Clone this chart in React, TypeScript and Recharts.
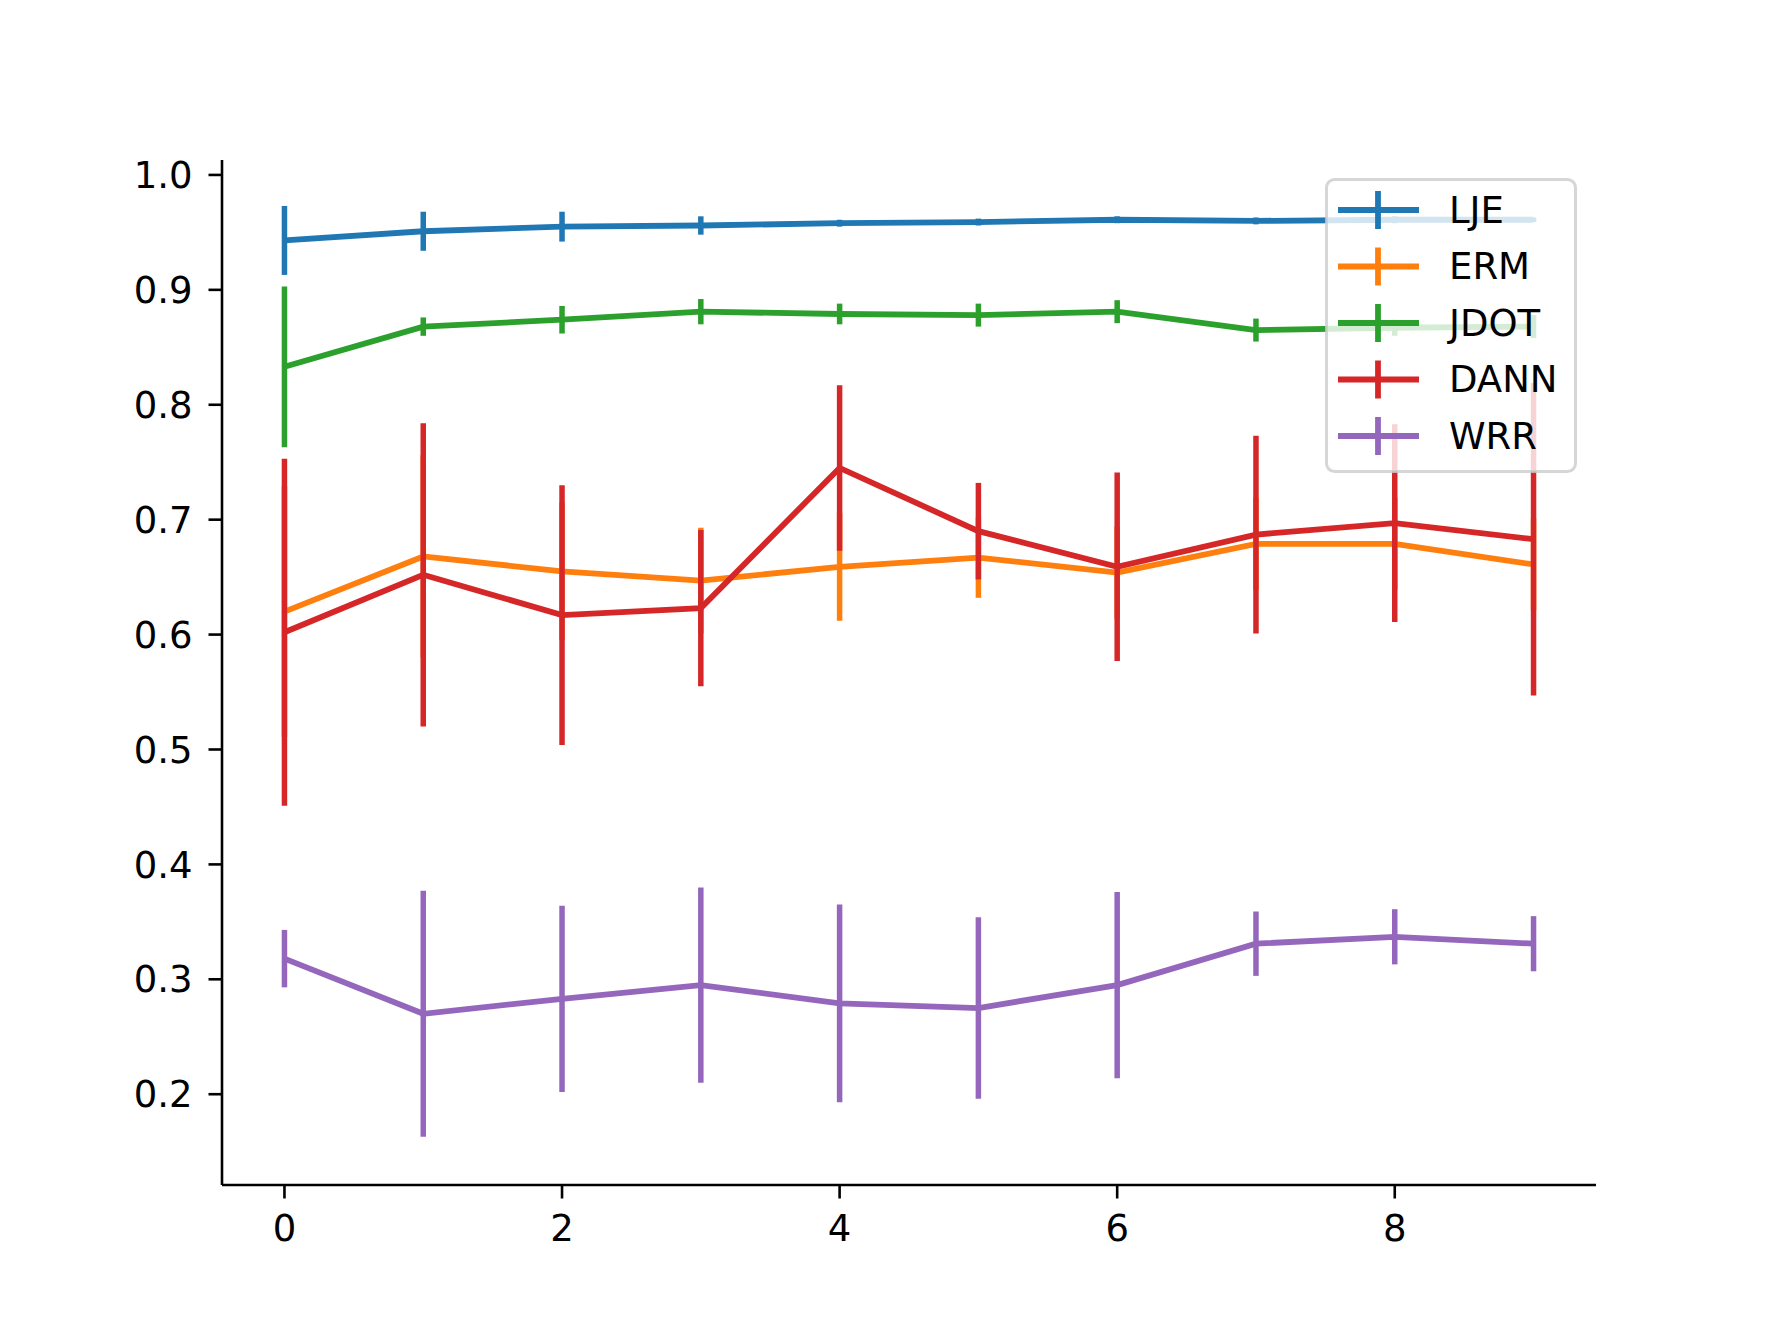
import { ErrorBar, Legend, Line, LineChart, XAxis, YAxis } from 'recharts'

const STEPS = [0, 1, 2, 3, 4, 5, 6, 7, 8, 9]

const LJE = [0.943, 0.951, 0.955, 0.956, 0.958, 0.959, 0.961, 0.96, 0.961, 0.961]
const LJE_ERR = [0.03, 0.017, 0.013, 0.008, 0.003, 0.003, 0.003, 0.003, 0.003, 0.002]
const ERM = [0.62, 0.668, 0.655, 0.647, 0.659, 0.667, 0.654, 0.679, 0.679, 0.661]
const ERM_ERR = [0.109, 0.088, 0.06, 0.046, 0.047, 0.035, 0.04, 0.04, 0.04, 0.04]
const JDOT = [0.833, 0.868, 0.874, 0.881, 0.879, 0.878, 0.881, 0.865, 0.867, 0.868]
const JDOT_ERR = [0.07, 0.008, 0.012, 0.011, 0.009, 0.01, 0.01, 0.01, 0.007, 0.01]
const DANN = [0.602, 0.652, 0.617, 0.623, 0.745, 0.69, 0.659, 0.687, 0.697, 0.683]
const DANN_ERR = [0.151, 0.132, 0.113, 0.068, 0.072, 0.042, 0.082, 0.086, 0.086, 0.136]
const WRR = [0.318, 0.27, 0.283, 0.295, 0.279, 0.275, 0.295, 0.331, 0.337, 0.331]
const WRR_ERR = [0.025, 0.107, 0.081, 0.085, 0.086, 0.079, 0.081, 0.028, 0.024, 0.024]

const X_TICKS = [0, 2, 4, 6, 8]
const Y_TICKS = [0.2, 0.3, 0.4, 0.5, 0.6, 0.7, 0.8, 0.9, 1.0]

// matplotlib tab10, in plotting order
const SERIES = [
  { key: 'LJE', values: LJE, errors: LJE_ERR, color: '#1f77b4' },
  { key: 'ERM', values: ERM, errors: ERM_ERR, color: '#ff7f0e' },
  { key: 'JDOT', values: JDOT, errors: JDOT_ERR, color: '#2ca02c' },
  { key: 'DANN', values: DANN, errors: DANN_ERR, color: '#d62728' },
  { key: 'WRR', values: WRR, errors: WRR_ERR, color: '#9467bd' },
]

const rows = STEPS.map((step, i) => {
  const row: Record<string, number> = { step }
  SERIES.forEach((s) => {
    row[s.key] = s.values[i]
    row[s.key + '_err'] = s.errors[i]
  })
  return row
})

const FONT = 'DejaVu Sans'
const LINE_W = 5.8

/** Legend drawn like matplotlib's: translucent rounded frame, line + vertical error tick per entry. */
function LegendBox() {
  return (
    <svg width={252} height={295} style={{ display: 'block' }}>
      <rect
        x={1.5}
        y={1.5}
        width={249}
        height={292}
        rx={8}
        fill="rgba(255,255,255,0.8)"
        stroke="rgba(204,204,204,0.8)"
        strokeWidth={3}
      />
      {SERIES.map((s, i) => {
        const cy = 32 + i * 56.5
        return (
          <g key={s.key}>
            <line x1={13} x2={94} y1={cy} y2={cy} stroke={s.color} strokeWidth={LINE_W} />
            <line x1={53} x2={53} y1={cy - 19} y2={cy + 19} stroke={s.color} strokeWidth={LINE_W} />
            <text x={124} y={cy} dominantBaseline="central" fontFamily={FONT} fontSize={37} fill="#000">
              {s.key}
            </text>
          </g>
        )
      })}
    </svg>
  )
}

export default function App() {
  return (
    <div style={{ position: 'absolute', left: 0, top: 0, width: 1774, height: 1331, background: '#fff' }}>
      <LineChart
        width={1774}
        height={1331}
        data={rows}
        margin={{ top: 160, right: 178, bottom: 86, left: 0 }}
        style={{ fontFamily: FONT }}
      >
        <XAxis
          dataKey="step"
          type="number"
          domain={[-0.45, 9.45]}
          ticks={X_TICKS}
          allowDataOverflow
          height={60}
          stroke="#000"
          strokeWidth={2.6}
          tickSize={13.5}
          tickMargin={16}
          tick={{ fill: '#000', fontSize: 37, fontFamily: FONT }}
        />
        <YAxis
          type="number"
          domain={[0.121, 1.013]}
          ticks={Y_TICKS}
          allowDataOverflow
          width={222}
          stroke="#000"
          strokeWidth={2.6}
          tickSize={13.5}
          tickMargin={16}
          tickFormatter={(v: number) => v.toFixed(1)}
          tick={{ fill: '#000', fontSize: 37, fontFamily: FONT }}
        />
        {SERIES.map((s) => (
          <Line
            key={s.key}
            name={s.key}
            dataKey={s.key}
            type="linear"
            stroke={s.color}
            strokeWidth={LINE_W}
            dot={false}
            activeDot={false}
            isAnimationActive={false}
          >
            <ErrorBar
              dataKey={s.key + '_err'}
              direction="y"
              width={0}
              stroke={s.color}
              strokeWidth={5.5}
              isAnimationActive={false}
            />
          </Line>
        ))}
        <Legend
          layout="horizontal"
          verticalAlign="middle"
          align="center"
          content={() => <LegendBox />}
          wrapperStyle={{ position: 'absolute', left: 1325, top: 178, width: 252, height: 295 }}
        />
      </LineChart>
    </div>
  )
}
